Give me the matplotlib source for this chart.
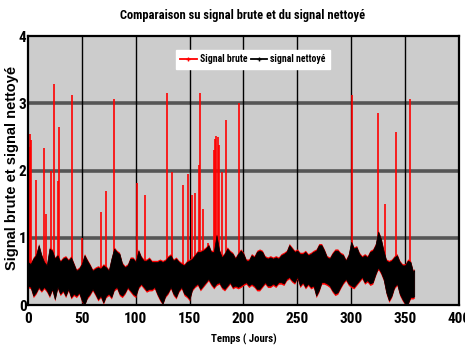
import os
import matplotlib
matplotlib.use("Agg")
import matplotlib.pyplot as plt
from matplotlib import font_manager
from matplotlib.font_manager import FontProperties


def find_font(keys):
    for key in keys:
        for f in font_manager.fontManager.ttflist:
            fn = os.path.basename(f.fname).lower().replace('-', '').replace('_', '')
            if fn.startswith(key):
                return f.fname
    return None


cond_path = find_font(['notosansextracondensedbold.', 'liberationsansnarrowbold.',
                       'robotocondensedbold.', 'notosanscondensedbold.',
                       'dejavusanscondensedbold.', 'opensanscondensedbold.'])


def cfont(size):
    if cond_path:
        return FontProperties(fname=cond_path, size=size)
    return FontProperties(family=['Liberation Sans', 'DejaVu Sans'], weight='bold',
                          size=size * 0.8)


# ---- data ----
env_days = [i * 2.5 for i in range(144)] + [358.5]
clean_high = [
    0.64, 0.61, 0.69, 0.74, 0.89, 0.74, 0.64, 0.59, 0.84, 0.81,
    0.69, 0.74, 0.64, 0.69, 0.71, 0.66, 0.71, 0.61, 0.51, 0.54,
    0.61, 0.74, 0.66, 0.59, 0.51, 0.54, 0.56, 0.54, 0.59, 0.56,
    0.51, 0.69, 0.84, 0.79, 0.76, 0.61, 0.56, 0.59, 0.69, 0.69,
    0.64, 0.81, 0.71, 0.66, 0.66, 0.69, 0.64, 0.64, 0.64, 0.66,
    0.64, 0.66, 0.71, 0.74, 0.66, 0.69, 0.64, 0.61, 0.59, 0.64,
    0.66, 0.69, 0.74, 0.79, 0.79, 0.81, 0.84, 0.89, 0.79, 0.79,
    1.04, 0.81, 0.71,
    0.76, 0.84, 0.79, 0.76, 0.69, 0.76, 0.81, 0.76, 0.66, 0.66,
    0.74, 0.71, 0.79, 0.81, 0.79, 0.71, 0.69, 0.71, 0.69, 0.71,
    0.69, 0.74, 0.76, 0.79, 0.89, 0.84, 0.79, 0.81, 0.76, 0.76,
    0.79, 0.74, 0.76, 0.79, 0.81, 0.89, 0.89, 0.81, 0.71, 0.69,
    0.76, 0.81, 0.81, 0.76, 0.74, 0.66, 0.74, 0.94, 0.84, 0.86,
    0.76, 0.71, 0.74, 0.71, 0.79, 0.81, 0.89, 1.09, 0.99, 0.81,
    0.66, 0.64, 0.66, 0.71, 0.74, 0.64, 0.59, 0.59, 0.66, 0.64, 0.49,
    0.52]
clean_low = [
    0.29, 0.27, 0.14, 0.19, 0.27, 0.22, 0.27, 0.22, 0.14, 0.24,
    0.09, 0.27, 0.17, 0.22, 0.14, 0.24, 0.12, 0.17, 0.14, 0.19,
    0.07, 0.00, 0.12, 0.17, 0.24, 0.17, 0.09, 0.14, 0.04, 0.14,
    0.17, 0.12, 0.24, 0.27, 0.17, 0.14, 0.19, 0.27, 0.22, 0.17,
    0.14, 0.27, 0.32, 0.27, 0.22, 0.24, 0.24, 0.27, 0.17, 0.09,
    0.02, 0.14, 0.19, 0.27, 0.17, 0.12, 0.22, 0.27, 0.17, 0.14,
    0.09, 0.24, 0.29, 0.32, 0.24, 0.29, 0.34, 0.39, 0.32, 0.27,
    0.32, 0.34, 0.27,
    0.24, 0.29, 0.34, 0.27, 0.29, 0.27, 0.29, 0.32, 0.34, 0.29,
    0.32, 0.29, 0.24, 0.24, 0.29, 0.34, 0.29, 0.29, 0.32, 0.29,
    0.34, 0.34, 0.32, 0.39, 0.42, 0.37, 0.34, 0.42, 0.29, 0.34,
    0.27, 0.32, 0.27, 0.29, 0.14, 0.22, 0.34, 0.34, 0.32, 0.29,
    0.22, 0.17, 0.19, 0.27, 0.34, 0.39, 0.32, 0.29, 0.27, 0.32,
    0.37, 0.42, 0.34, 0.37, 0.32, 0.34, 0.46, 0.56, 0.49, 0.39,
    0.19, 0.07, 0.14, 0.27, 0.32, 0.17, 0.09, 0.02, 0.02, 0.12, 0.12,
    0.13]

spike_days = [1.8, 2.4, 3.0, 7.9, 15.3, 16.8, 21.8, 24.2, 28.0, 28.5, 40.9, 50.2, 68.0,
              72.7, 79.8, 101.0, 108.8, 129.5, 134.0, 143.7, 148.6, 152.3, 155.0, 158.5,
              159.7, 162.2, 167.0, 173.0, 174.0, 175.0, 176.0, 177.0, 179.8, 183.8, 195.5,
              300.7, 325.0, 331.0, 341.8, 354.8]
spike_heights = [2.35, 2.55, 2.45, 1.86, 2.33, 1.36, 2.0, 3.29, 1.85, 2.65, 3.13, 0.99, 1.38,
                 1.70, 3.07, 1.81, 1.63, 3.15, 1.98, 1.78, 1.95, 1.63, 1.67, 2.08,
                 3.16, 1.43, 0.92, 2.3, 2.47, 2.52, 2.5, 2.38, 1.98, 2.76, 3.0,
                 3.12, 2.85, 1.51, 2.58, 3.06]

title = "Comparaison su signal brute et du signal nettoyé"
xlabel = "Temps ( Jours)"
ylabel = "Signal brute et signal nettoyé"
legend_labels = ["Signal brute", "signal nettoyé"]
xticks = [0, 50, 100, 150, 200, 250, 300, 350, 400]
yticks = [0, 1, 2, 3, 4]

# ---- figure ----
fig = plt.figure(figsize=(4.65, 3.51), dpi=100)
ax = fig.add_axes([0.060, 0.131, 0.927, 0.766])
ax.set_facecolor("#cccccc")

for y in [1, 2, 3]:
    ax.axhline(y, color="#555555", lw=2.6, zorder=1)
for x in xticks[1:-1]:
    ax.axvline(x, color="black", lw=1.0, zorder=1)

# raw signal (red): slightly wider band + spikes
raw_high = [h + 0.025 for h in clean_high]
raw_low = [max(l - 0.03, 0) for l in clean_low]
ax.fill_between(env_days, raw_low, raw_high, color="red", lw=0, zorder=2)
base = [0.5] * len(spike_days)
ax.vlines(spike_days, base, spike_heights, color="red", lw=1.2, zorder=2)
ax.fill_between(env_days, clean_low, clean_high, color="black", lw=0.5,
                edgecolor="black", zorder=3)

ax.set_xlim(0, 400)
ax.set_ylim(0, 4)
ax.set_xticks(xticks)
ax.set_yticks(yticks)
ax.tick_params(axis='x', length=0, pad=5)
ax.tick_params(axis='y', length=0, pad=1)
for lab in ax.get_xticklabels() + ax.get_yticklabels():
    lab.set_fontproperties(cfont(11))
for s in ax.spines.values():
    s.set_linewidth(1.6)
    s.set_zorder(5)

fig.text(0.521, 1 - 16 / 351, title, ha='center', va='center', fontproperties=cfont(9))
ax.set_xlabel(xlabel, fontproperties=cfont(7.8))
ax.xaxis.set_label_coords(0.501, -0.108)
ax.set_ylabel(ylabel, fontsize=10.5, fontweight="bold",
              family=["Liberation Sans", "DejaVu Sans"])
ax.yaxis.set_label_coords(-0.021, 0.51)

h1, = ax.plot([], [], color="red", lw=1.3, marker="+", ms=3)
h2, = ax.plot([], [], color="black", lw=1.3, marker="+", ms=3)
leg = ax.legend([h1, h2], legend_labels, loc="center", bbox_to_anchor=(0.522, 0.914),
                ncol=2, frameon=True, fancybox=False, framealpha=1, edgecolor="white",
                prop=cfont(7), handlelength=1.7, handletextpad=0.3,
                columnspacing=0.4, borderpad=0.45, borderaxespad=0)
leg.set_zorder(6)

fig.savefig("out.png", dpi=100, facecolor="white")
